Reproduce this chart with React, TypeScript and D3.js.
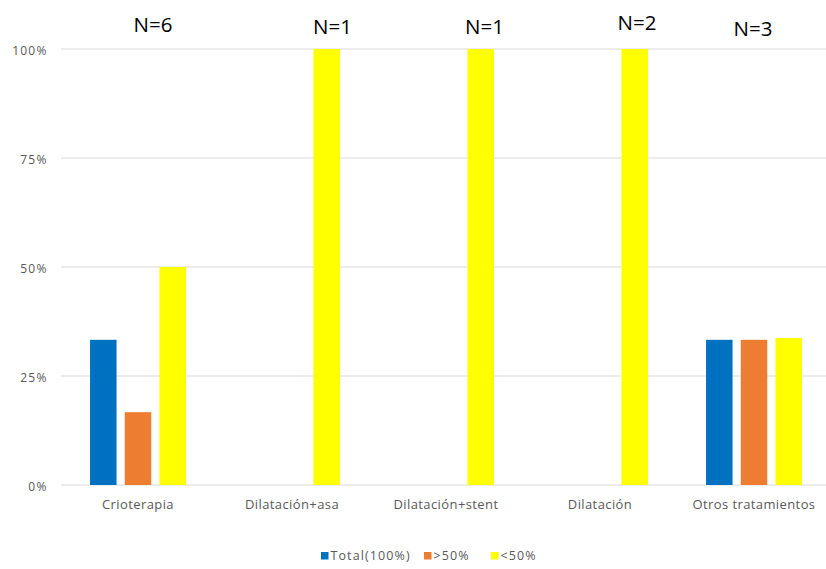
import React from "react";
import * as d3 from "d3";

const categories = ["Crioterapia", "Dilatación+asa", "Dilatación+stent", "Dilatación", "Otros tratamientos"];
const seriesNames = ["Total(100%)", ">50%", "<50%"];
const totalValues = [33.3, 0, 0, 0, 33.3];
const over50Values = [16.7, 0, 0, 0, 33.3];
const under50Values = [50, 100, 100, 100, 33.7];
const nLabels = ["N=6", "N=1", "N=1", "N=2", "N=3"];
const yTicks = [0, 25, 50, 75, 100];

const colors = ["#0070C0", "#ED7D31", "#FFFF00"];
// manual placement of text boxes (offsets from category center, and baseline y)
const nOffsetX = [15, 40.5, 38.5, 37, -1];
const nY = [31.5, 34, 33.5, 30, 35.5];

export default function App() {
  const W = 826, H = 569;
  const left = 61, right = 831, top = 49, bottom = 485;
  const x = d3.scaleBand<string>().domain(categories).range([left, right]);
  const y = d3.scaleLinear().domain([0, 100]).range([bottom, top]);
  const series = [totalValues, over50Values, under50Values];
  const barW = 26.5;
  const step = 34.7;
  const font = "'Open Sans', sans-serif";

  const legendItems = [
    { x: 321, label: seriesNames[0] },
    { x: 424, label: seriesNames[1] },
    { x: 491, label: seriesNames[2] },
  ];

  return (
    <svg width={W} height={H} style={{ position: "absolute", left: 0, top: 0, background: "#fff" }} fontFamily={font}>
      <rect width={W} height={H} fill="#fff" />
      {yTicks.map((t) => (
        <g key={t}>
          <line x1={left} x2={right} y1={y(t)} y2={y(t)} stroke="#D9D9D9" strokeWidth={1} />
          <text x={47.5} y={y(t) + 5.5} textAnchor="end" fontSize={12} letterSpacing={1.2} fill="#595959">{t}%</text>
        </g>
      ))}
      {categories.map((c, i) => {
        const cx = (x(c) as number) + x.bandwidth() / 2;
        return (
          <g key={c}>
            {series.map((vals, s) => {
              const v = vals[i];
              if (v <= 0) return null;
              const bx = cx + (s - 1) * step - barW / 2;
              return <rect key={s} x={bx} y={y(v)} width={barW} height={bottom - y(v)} fill={colors[s]} />;
            })}
            <text x={cx} y={509} textAnchor="middle" fontSize={13} letterSpacing={0.4} fill="#595959">{c}</text>
            <text x={cx + nOffsetX[i]} y={nY[i]} textAnchor="middle" fontSize={20.5} fill="#000">{nLabels[i]}</text>
          </g>
        );
      })}
      {legendItems.map((l, i) => (
        <g key={i}>
          <rect x={l.x} y={552} width={7.5} height={7.5} fill={colors[i]} />
          <text x={l.x + 9.5} y={560} fontSize={12.5} letterSpacing={1.1} fill="#595959">{l.label}</text>
        </g>
      ))}
    </svg>
  );
}
